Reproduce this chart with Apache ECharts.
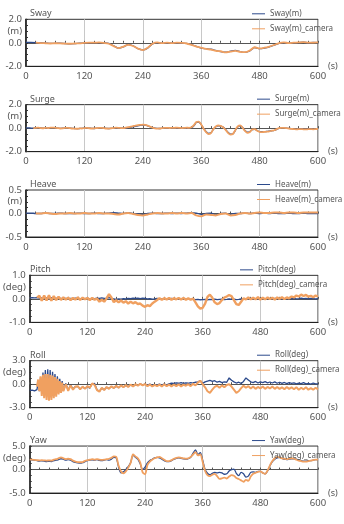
<!DOCTYPE html>
<html>
<head>
<meta charset="utf-8">
<script src="https://cdn.jsdelivr.net/npm/echarts@6/dist/echarts.min.js"></script>
<style>
  html, body { margin: 0; padding: 0; background: #fff; }
  #chart { width: 344px; height: 524px; }
</style>
</head>
<body>
<div id="chart"></div>
<script>
// sample times (s)
var time10 = [], time5 = [], rollTime = [];
for (var s = 0; s <= 600; s += 10) time10.push(s);
for (var s = 0; s <= 600; s += 5) time5.push(s);
// roll is sampled more densely during the early oscillation
for (var s = 0; s < 15; s += 5) rollTime.push(s);
for (var s = 15; s <= 70; s += 2.5) rollTime.push(s);
for (var s = 75; s <= 600; s += 5) rollTime.push(s);

// Sway (m), every 10 s
var swayBlue = [
  0.03, 0.03, 0.02, 0.0, -0.02, -0.05, -0.05, -0.03, -0.06, -0.08,
  -0.07, -0.04, -0.02, 0.0, 0.02, 0.02, 0.0, -0.05, -0.25, -0.45,
  -0.35, -0.15, -0.25, -0.5, -0.6, -0.45, -0.1, 0.02, -0.05, 0.0,
  -0.02, 0.0, -0.02, -0.05, -0.15, -0.3, -0.45, -0.5, -0.55, -0.65,
  -0.75, -0.8, -0.72, -0.65, -0.75, -0.82, -0.7, -0.4, -0.5, -0.45,
  -0.35, -0.2, -0.05, 0.02, -0.03, 0.0, 0.02, 0.05, 0.0, 0.03,
  0.02
];
var swayCam = [
  null, null, 0.02, -0.02, -0.04, -0.06, -0.04, -0.05, -0.07, -0.08,
  -0.06, -0.05, -0.01, 0.01, 0.01, 0.03, -0.01, -0.08, -0.28, -0.45,
  -0.32, -0.17, -0.27, -0.5, -0.62, -0.42, -0.08, 0.03, -0.03, 0.01,
  -0.03, 0.01, -0.01, -0.06, -0.18, -0.32, -0.42, -0.52, -0.58, -0.68,
  -0.72, -0.82, -0.75, -0.68, -0.78, -0.8, -0.65, -0.38, -0.48, -0.42,
  -0.32, -0.18, -0.03, 0.03, -0.02, 0.01, 0.03, 0.06, 0.02, 0.02,
  0.03
];

// Surge (m), every 5 s
var surgeBlue = [
  0.02, 0.02, 0.01, 0.0, 0.02, 0.03, 0.02, 0.0, -0.02, 0.0,
  0.03, 0.04, 0.02, 0.0, -0.02, -0.01, 0.01, 0.02, 0.0, -0.02,
  -0.03, -0.04, -0.03, -0.02, 0.0, 0.01, 0.0, -0.02, -0.03, -0.01,
  0.01, 0.02, 0.0, -0.02, -0.03, -0.02, 0.0, 0.03, 0.02, 0.0,
  -0.01, 0.02, 0.05, 0.08, 0.12, 0.16, 0.2, 0.24, 0.26, 0.25,
  0.2, 0.12, 0.05, 0.0, -0.02, -0.03, -0.01, 0.01, 0.02, 0.0,
  0.01, 0.02, 0.03, 0.02, 0.0, 0.01, 0.03, 0.02, 0.05, 0.2,
  0.48, 0.52, 0.3, -0.02, -0.3, -0.45, -0.4, -0.1, 0.12, 0.2,
  0.18, 0.1, -0.1, -0.35, -0.5, -0.48, -0.2, 0.1, 0.2, 0.05,
  -0.2, -0.35, -0.3, -0.12, -0.1, -0.2, -0.3, -0.3, -0.3, -0.28,
  -0.25, -0.22, -0.2, -0.1, -0.02, 0.0, 0.01, 0.0, -0.02, -0.04,
  -0.06, -0.08, -0.07, -0.06, -0.08, -0.09, -0.07, -0.06, -0.08, -0.07,
  -0.05
];
var surgeCam = [
  null, null, null, 0.0, 0.03, 0.04, 0.01, -0.01, 0.02, 0.01,
  0.04, 0.05, 0.03, 0.01, -0.03, -0.02, 0.02, 0.03, 0.01, -0.03,
  -0.04, -0.05, -0.02, -0.03, 0.01, 0.02, -0.01, -0.03, -0.02, 0.0,
  0.02, 0.03, 0.01, -0.03, -0.04, -0.01, 0.01, 0.04, 0.03, 0.01,
  0.0, 0.04, 0.08, 0.12, 0.17, 0.22, 0.26, 0.28, 0.3, 0.28,
  0.22, 0.13, 0.04, -0.02, -0.04, -0.03, 0.0, 0.02, 0.03, 0.01,
  0.02, 0.03, 0.04, 0.03, 0.01, 0.02, 0.04, 0.03, 0.07, 0.25,
  0.52, 0.56, 0.32, -0.05, -0.33, -0.5, -0.42, -0.08, 0.14, 0.24,
  0.2, 0.08, -0.14, -0.4, -0.55, -0.5, -0.18, 0.14, 0.24, 0.05,
  -0.24, -0.4, -0.32, -0.1, -0.08, -0.22, -0.32, -0.34, -0.32, -0.3,
  -0.27, -0.22, -0.18, -0.08, 0.0, 0.02, 0.02, 0.0, -0.03, -0.06,
  -0.08, -0.1, -0.09, -0.08, -0.1, -0.11, -0.09, -0.08, -0.1, -0.08,
  -0.06
];

// Heave (m), every 10 s
var heaveBlue = [
  0.01, 0.01, 0.0, 0.0, 0.01, 0.0, 0.0, 0.01, 0.0, 0.0,
  0.0, 0.01, 0.0, 0.0, 0.01, 0.0, 0.0, 0.01, 0.02, 0.01,
  0.0, 0.02, 0.0, -0.01, -0.02, 0.0, 0.01, 0.0, 0.0, 0.01,
  0.0, 0.01, 0.0, 0.01, 0.02, 0.01, -0.02, 0.0, 0.01, -0.03,
  0.0, 0.01, -0.02, 0.0, 0.0, 0.01, 0.0, 0.01, 0.0, 0.01,
  0.0, 0.01, 0.0, 0.0, 0.01, 0.0, 0.0, 0.01, 0.0, 0.0,
  0.0
];
var heaveCam = [
  null, null, 0.0, 0.0, 0.01, 0.0, -0.01, 0.0, 0.0, 0.01,
  0.0, 0.0, 0.01, 0.0, 0.0, 0.01, 0.0, 0.0, -0.01, -0.02,
  0.0, 0.01, -0.01, -0.03, -0.04, -0.02, 0.0, 0.01, 0.0, 0.0,
  0.01, 0.0, 0.01, 0.0, 0.01, -0.04, -0.06, -0.02, -0.03, -0.04,
  -0.01, 0.0, -0.04, -0.03, 0.0, 0.01, 0.0, 0.01, 0.02, 0.01,
  0.01, 0.02, 0.02, 0.01, 0.02, 0.02, 0.01, 0.02, 0.02, 0.02,
  0.02
];

// Pitch (deg), every 5 s
var pitchBlue = [
  0.04, 0.05, 0.04, 0.05, 0.03, 0.04, 0.02, 0.04, 0.03, 0.05,
  0.03, 0.02, 0.04, 0.01, 0.03, 0.02, 0.0, 0.02, 0.01, 0.03,
  0.02, 0.0, 0.02, 0.01, 0.03, 0.0, 0.02, 0.01, 0.03, 0.02,
  0.04, 0.02, 0.03, 0.05, 0.02, 0.0, -0.02, 0.0, -0.01, 0.01,
  0.0, 0.02, 0.01, 0.03, 0.02, 0.03, 0.01, 0.03, 0.02, 0.0,
  0.01, -0.01, 0.0, 0.02, 0.0, 0.01, -0.01, 0.01, 0.0, 0.02,
  0.0, 0.01, -0.01, 0.0, 0.01, -0.01, 0.0, -0.02, -0.01, -0.03,
  -0.02, -0.04, -0.03, -0.02, -0.04, -0.02, -0.03, -0.01, -0.03, -0.02,
  -0.01, -0.03, -0.02, 0.0, -0.02, -0.01, -0.03, -0.02, 0.0, -0.01,
  0.01, 0.0, 0.02, -0.01, 0.01, 0.0, 0.02, 0.01, 0.0, 0.02,
  0.01, 0.0, 0.02, 0.01, -0.01, 0.01, 0.0, 0.02, 0.0, 0.01,
  0.02, 0.0, 0.01, 0.03, 0.01, 0.02, 0.0, 0.02, 0.01, 0.0,
  0.01
];
var pitchCam = [
  null, null, null, 0.05, 0.13, -0.08, 0.14, -0.07, 0.15, -0.08,
  0.12, -0.05, 0.09, -0.04, 0.06, -0.03, 0.05, -0.05, 0.04, -0.03,
  0.06, -0.04, 0.05, -0.02, 0.04, -0.05, 0.04, -0.04, 0.01, -0.12,
  -0.04, -0.12, 0.02, 0.2, 0.06, -0.14, -0.06, -0.15, -0.07, -0.16,
  -0.1, -0.2, -0.12, -0.19, -0.14, -0.22, -0.2, -0.29, -0.34, -0.27,
  -0.31, -0.2, -0.12, -0.05, 0.03, -0.04, 0.03, -0.03, 0.04, -0.04,
  0.03, -0.02, 0.04, -0.03, 0.04, -0.04, 0.02, -0.04, 0.01, -0.15,
  -0.32, -0.42, -0.38, -0.2, 0.08, 0.18, 0.05, -0.15, -0.22, -0.18,
  -0.05, 0.05, 0.1, 0.16, 0.12, -0.05, -0.22, -0.26, -0.12, 0.02,
  -0.02, 0.06, -0.02, 0.05, -0.02, 0.07, -0.03, 0.05, -0.02, 0.06,
  -0.01, 0.05, -0.03, 0.06, 0.0, 0.07, -0.01, 0.06, 0.02, 0.1,
  0.06, 0.14, 0.1, 0.18, 0.12, 0.17, 0.09, 0.13, 0.07, 0.14,
  0.1
];

// Roll (deg), on rollTime
var rollBlue = [
  -0.8, -0.75, -0.85,
  -0.7, 0.2, -0.9, 0.9, -1.2, 1.5, -1.5, 1.8, -1.6, 1.9, -1.8, 1.8,
  -1.7, 1.6, -1.5, 1.3, -1.3, 1.0, -1.1, 0.7, -0.9, 0.4, -0.8,
  0.1, -0.75, -0.1, -0.6, -0.3,
  -0.3, -0.6, -0.35, -0.55, -0.3, -0.5, 0.05, 0.1, -0.7, -0.9,
  -0.5, -0.7, -0.4, -0.55, -0.3, -0.5, -0.25, -0.45, -0.2, -0.35,
  -0.15, -0.3, -0.1, -0.25, -0.05, -0.15, 0.05, -0.1, 0.0, -0.12,
  0.0, -0.15, -0.05, -0.12, 0.02, -0.1, 0.0, -0.08, 0.05, 0.15,
  0.1, 0.18, 0.12, 0.2, 0.1, 0.18, 0.12, 0.2, 0.15, 0.25,
  0.3, 0.45, 0.1, 0.3, 0.4, 0.5, 0.35, 0.45, 0.25, 0.35,
  0.2, 0.3, 0.25, 0.8, 0.5, 0.3, 0.15, 0.25, 0.1, 0.35,
  0.8, 0.55, 0.3, 0.2, 0.35, 0.15, 0.3, 0.2, 0.32, 0.18,
  0.28, 0.15, 0.3, 0.12, 0.25, 0.1, 0.22, 0.08, 0.2, 0.1,
  0.18, 0.05, 0.15, 0.08, 0.2, 0.05, 0.12, 0.02, 0.15, 0.05,
  0.05
];
var rollCam = [
  null, null, null,
  -0.3, 0.6, -0.9, 1.0, -1.5, 1.2, -1.8, 1.3, -2.0, 1.3, -2.1, 1.2,
  -2.0, 1.1, -1.8, 0.9, -1.6, 0.7, -1.3, 0.4, -1.1, 0.2, -0.9,
  0.0, -0.85, -0.15, -0.7, -0.3,
  -0.25, -0.65, -0.3, -0.6, -0.25, -0.45, 0.1, -0.1, -0.75, -0.95,
  -0.45, -0.75, -0.35, -0.6, -0.25, -0.5, -0.2, -0.45, -0.15, -0.4,
  -0.1, -0.35, -0.05, -0.3, 0.0, -0.2, 0.05, -0.15, 0.02, -0.25,
  -0.05, -0.3, -0.08, -0.25, -0.05, -0.28, -0.02, -0.25, -0.05, -0.3,
  -0.05, -0.25, -0.02, -0.28, -0.05, -0.2, 0.0, -0.25, 0.05, -0.15,
  0.2, 0.45, 0.0, -0.4, -0.9, -1.1, -0.7, -0.35, -0.2, -0.45,
  -0.15, -0.4, -0.1, 0.0, -0.3, -0.7, -1.1, -0.9, -0.5, -0.2,
  -0.45, -0.25, -0.55, -0.3, -0.6, -0.35, -0.55, -0.3, -0.6, -0.35,
  -0.55, -0.3, -0.6, -0.35, -0.6, -0.4, -0.65, -0.35, -0.6, -0.4,
  -0.65, -0.4, -0.7, -0.45, -0.65, -0.4, -0.7, -0.5, -0.7, -0.45,
  -0.65
];

// Yaw (deg), every 5 s
var yawBlue = [
  2.1, 2.05, 2.0, 1.9, 1.8, 1.85, 1.8, 1.7, 1.75, 1.7,
  1.9, 2.0, 2.1, 2.3, 2.2, 2.0, 2.1, 2.0, 1.7, 1.5,
  1.4, 1.35, 1.45, 1.7, 1.9, 2.0, 2.05, 2.0, 2.1, 1.95,
  1.9, 2.0, 2.1, 2.0, 2.2, 2.6, 2.5, 0.5, -0.7, -0.5,
  0.0, 0.6, 1.5, 3.0, 2.6, 2.2, 1.2, 0.0, 0.5, 1.4,
  1.9, 2.2, 2.5, 2.6, 2.5, 2.2, 1.9, 1.7, 1.7, 1.9,
  2.2, 2.4, 2.5, 2.4, 2.3, 2.2, 2.3, 2.6, 3.5, 4.2,
  3.2, 3.6, 2.0, 0.0, -0.8, -1.1, -0.8, -0.6, -0.7, -0.6,
  -0.7, -1.0, -0.9, -0.3, 0.0, 0.1, -0.8, -1.3, -0.6, -0.9,
  -1.6, -1.4, -0.6, -0.5, -0.6, -0.4, -0.4, -0.7, -0.9, -0.3,
  0.8, 1.7, 2.2, 2.5, 2.6, 2.4, 2.2, 2.1, 2.2, 2.3,
  2.3, 2.2, 2.0, 1.9, 1.8, 1.8, 1.9, 1.9, 2.0, 2.1,
  2.1
];
var yawCam = [
  2.1, 2.1, 2.05, 2.0, 1.95, 2.0, 1.95, 1.9, 1.95, 1.9,
  2.1, 2.2, 2.4, 2.6, 2.4, 2.2, 2.3, 2.2, 1.9, 1.7,
  1.6, 1.55, 1.6, 1.85, 2.0, 2.1, 2.2, 2.1, 2.2, 2.1,
  2.05, 2.1, 2.2, 2.3, 2.5, 2.8, 2.7, 0.8, -0.4, -0.8,
  -0.4, 0.4, 1.4, 3.2, 2.8, 2.4, 1.5, -0.6, -1.0, 1.0,
  1.7, 2.1, 2.4, 2.6, 2.7, 2.4, 2.1, 1.8, 1.8, 2.0,
  2.3, 2.5, 2.6, 2.5, 2.4, 2.3, 2.4, 2.7, 3.2, 3.7,
  3.0, 3.2, 1.6, -0.3, -1.2, -1.4, -1.1, -0.9, -1.4, -2.0,
  -1.9, -1.7, -1.9, -1.5, -1.2, -1.3, -1.8, -2.0, -2.3, -2.6,
  -2.2, -2.4, -1.5, -0.9, -0.7, -0.5, -0.4, -0.7, -0.9, -0.2,
  0.9, 1.8, 2.4, 2.7, 2.6, 2.4, 2.3, 2.2, 2.3, 2.4,
  2.3, 2.1, 1.9, 1.8, 1.7, 1.7, 1.8, 1.9, 2.0, 2.1,
  2.1
];

var FONT = '"Noto Sans", sans-serif';
var BLUE = '#2c4a8c';
var ORANGE = '#f0a060';

var panels = [
  { title: 'Sway',  unit: '(m)',   max: 2,   name: 'Sway(m)',    t: time10,   blue: swayBlue,  cam: swayCam,  smooth: true,  camWidth: 1.8, legendLeft: 252 },
  { title: 'Surge', unit: '(m)',   max: 2,   name: 'Surge(m)',   t: time5,    blue: surgeBlue, cam: surgeCam, smooth: true,  camWidth: 1.8, legendLeft: 257 },
  { title: 'Heave', unit: '(m)',   max: 0.5, name: 'Heave(m)',   t: time10,   blue: heaveBlue, cam: heaveCam, smooth: true,  camWidth: 2,   legendLeft: 257 },
  { title: 'Pitch', unit: '(deg)', max: 1,   name: 'Pitch(deg)', t: time5,    blue: pitchBlue, cam: pitchCam, smooth: false, camWidth: 2.4, legendLeft: 240 },
  { title: 'Roll',  unit: '(deg)', max: 3,   name: 'Roll(deg)',  t: rollTime, blue: rollBlue,  cam: rollCam,  smooth: false, camWidth: 2,   legendLeft: 257 },
  { title: 'Yaw',   unit: '(deg)', max: 5,   name: 'Yaw(deg)',   t: time5,    blue: yawBlue,   cam: yawCam,   smooth: true,  camWidth: 1.8, legendLeft: 252 }
];

function pairs(times, vals) {
  return vals.map(function (v, k) { return [times[k], v]; });
}

var option = { animation: false, title: [], legend: [], grid: [], xAxis: [], yAxis: [], series: [] };

panels.forEach(function (p, i) {
  var top = 19.3 + 85.35 * i;
  option.grid.push({
    left: 26, top: top, width: 292, height: 47,
    show: true, borderColor: '#333', borderWidth: 1
  });
  option.title.push({
    text: p.title, left: 30, top: top - 10, padding: 0,
    textStyle: { fontSize: 9, fontWeight: 'normal', color: '#555', fontFamily: FONT }
  });
  option.legend.push({
    orient: 'vertical', left: p.legendLeft, top: top - 9.5, padding: 0,
    itemWidth: 13, itemHeight: 1, itemGap: 7, icon: 'rect',
    data: [p.name, p.name + '_camera'],
    textStyle: { fontSize: 8, color: '#555', fontFamily: FONT }
  });
  // bottom axis with labels and grid lines
  option.xAxis.push({
    type: 'value', gridIndex: i, min: 0, max: 600, interval: 120, position: 'bottom',
    axisLine: { onZero: false, lineStyle: { color: '#222' } },
    axisTick: { show: false },
    splitLine: { show: true, lineStyle: { color: '#c8c8c8' } },
    axisLabel: { fontSize: 9.5, color: '#555', margin: 5, fontFamily: FONT },
    name: '(s)', nameLocation: 'end', nameGap: 10,
    nameTextStyle: { fontSize: 9, color: '#555', fontFamily: FONT, padding: [24, 0, 0, 0] }
  });
  // zero line with ticks
  option.xAxis.push({
    type: 'value', gridIndex: i, min: 0, max: 600, interval: 120, position: 'top',
    axisLine: { onZero: true, lineStyle: { color: '#555' } },
    axisTick: { show: true, length: 2, lineStyle: { color: '#555' } },
    minorTick: { show: true, splitNumber: 6, length: 2, lineStyle: { color: '#555' } },
    axisLabel: { show: false },
    splitLine: { show: false }
  });
  option.yAxis.push({
    type: 'value', gridIndex: i, min: -p.max, max: p.max, interval: p.max / 2,
    axisLine: { show: true, lineStyle: { color: '#111', width: 1.5 } },
    axisTick: { show: true, inside: true, length: 2, lineStyle: { color: '#333' } },
    minorTick: { show: true, splitNumber: 2, length: 2, lineStyle: { color: '#333' } },
    splitLine: { show: false },
    axisLabel: {
      fontSize: 9.5, color: '#555', margin: 4, fontFamily: FONT,
      formatter: function (v) {
        if (Math.abs(v - p.max) < 1e-9) return p.max.toFixed(1);
        if (Math.abs(v + p.max) < 1e-9) return (-p.max).toFixed(1);
        if (Math.abs(v) < 1e-9) return '0.0';
        if (Math.abs(v - p.max / 2) < 1e-9) return p.unit;
        return '';
      }
    }
  });
  option.series.push({
    name: p.name, type: 'line', xAxisIndex: 2 * i, yAxisIndex: i,
    data: pairs(p.t, p.blue), showSymbol: false, symbol: 'none', smooth: p.smooth ? 0.3 : false,
    color: BLUE, lineStyle: { color: BLUE, width: 1.3 }
  });
  option.series.push({
    name: p.name + '_camera', type: 'line', xAxisIndex: 2 * i, yAxisIndex: i,
    data: pairs(p.t, p.cam), showSymbol: false, symbol: 'none', smooth: p.smooth ? 0.3 : false,
    color: ORANGE, lineStyle: { color: ORANGE, width: p.camWidth }
  });
});

var chart = echarts.init(document.getElementById('chart'));
chart.setOption(option);
</script>
</body>
</html>
